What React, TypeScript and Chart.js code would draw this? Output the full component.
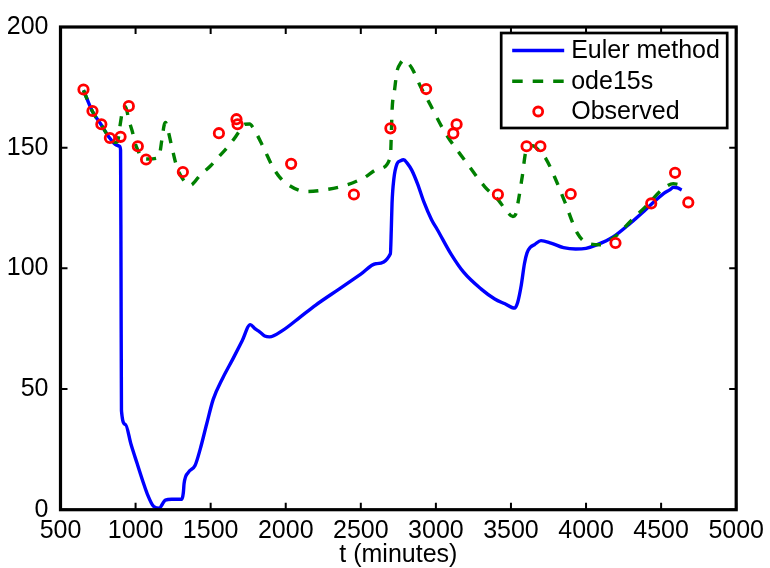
import React, { useEffect, useRef } from "react";
import { Chart, registerables } from "chart.js";

Chart.register(...registerables);

// ---- Data ----
const eulerT = [653, 713, 772, 829, 870, 894, 900, 903, 906, 932, 970, 1011, 1050, 1077, 1121, 1160, 1180, 1198, 1240, 1308, 1318, 1323, 1352, 1396, 1430, 1473, 1517, 1580, 1650, 1710, 1764, 1795, 1826, 1860, 1892, 1980, 2100, 2200, 2355, 2500, 2600, 2697, 2703, 2708, 2720, 2741, 2765, 2785, 2810, 2840, 2878, 2920, 2972, 3010, 3100, 3186, 3300, 3392, 3460, 3524, 3545, 3568, 3590, 3607, 3630, 3656, 3700, 3766, 3850, 3931, 4000, 4075, 4180, 4295, 4400, 4516, 4560, 4582, 4610, 4637];
const eulerV = [173.8, 165, 159.4, 153.9, 151.2, 150.6, 149, 100, 41, 35.3, 27, 19, 11.5, 6.7, 1.3, 0.6, 2.5, 4, 4.3, 4.3, 7, 10.8, 15.5, 18.3, 25, 35.4, 45.7, 54.5, 62.7, 70, 76.7, 75, 73.7, 72, 71.6, 74.3, 80, 84.8, 91.4, 97.6, 101.9, 106, 116, 127, 137, 143.3, 144.6, 145, 143.5, 140.6, 135, 127.5, 120, 116, 106, 98.3, 91.5, 87.3, 85.3, 83.5, 86, 92.8, 102, 106.4, 108.8, 109.8, 111.5, 110.5, 108.6, 108, 108.3, 109.8, 113, 118.7, 124.5, 131, 132.6, 133.6, 133.3, 132.5];

const odeT = [653, 713, 772, 829, 867, 880, 896, 915, 933, 955, 977, 1000, 1021, 1035, 1080, 1153, 1176, 1190, 1200, 1215, 1242, 1275, 1320, 1363, 1429, 1500, 1561, 1630, 1694, 1727, 1760, 1782, 1850, 1914, 1958, 2003, 2135, 2245, 2399, 2520, 2620, 2697, 2703, 2708, 2725, 2741, 2765, 2785, 2810, 2840, 2900, 2950, 3061, 3193, 3326, 3420, 3458, 3513, 3530, 3546, 3575, 3601, 3645, 3690, 3733, 3800, 3854, 3942, 4008, 4097, 4200, 4295, 4400, 4516, 4582, 4610, 4637];
const odeV = [173.8, 165, 159.4, 153.8, 152.2, 152.5, 159, 165.8, 167, 161.5, 157, 151.3, 148.1, 146, 145.3, 145.8, 153.6, 159.2, 160.4, 157.5, 150.2, 142, 136.5, 134.4, 138.5, 142.5, 146.7, 151.5, 157, 159.7, 159.8, 158.3, 150.3, 142, 137.9, 135.2, 131.8, 132.4, 134.4, 137.5, 141.3, 146.1, 155, 165.2, 174, 181.6, 185, 186.3, 185.3, 183, 175, 169.3, 156.3, 144.7, 133.8, 128, 124.8, 121.5, 122.2, 126.9, 138, 148.8, 150.8, 148.5, 145.4, 136.5, 128.3, 114.6, 110.5, 109.8, 113.5, 119.4, 125.8, 133.1, 135.1, 134.8, 134.4];

const obsT = [653, 713, 772, 829, 900, 955, 1015, 1070, 1315, 1555, 1672, 1679, 2036, 2454, 2697, 2935, 3116, 3138, 3413, 3604, 3696, 3898, 4196, 4434, 4593, 4681];
const obsV = [174.1, 165.2, 159.7, 154, 154.5, 167.2, 150.6, 145.1, 139.9, 156, 161.8, 159.7, 143.3, 130.6, 158, 174.3, 155.9, 159.7, 130.6, 150.6, 150.6, 130.8, 110.5, 126.9, 139.6, 127.3];

const xTicks = [500, 1000, 1500, 2000, 2500, 3000, 3500, 4000, 4500, 5000];
const yTicks = [0, 50, 100, 150, 200];
const seriesNames = ["Euler method", "ode15s", "Observed"];
const xTitle = "t (minutes)";

// ---- Style ----
const FONT = "'Liberation Sans', Arial, Helvetica, sans-serif";
const FS = 25;
const BLUE = "#0000ff";
const GREEN = "#008000";
const RED = "#ff0000";
const LW = 3.4;

const toPts = (t: number[], v: number[]) => t.map((x, i) => ({ x, y: v[i] }));

const boxPlugin = {
  id: "matlabBox",
  afterDraw(chart: any) {
    const { ctx, chartArea: a, scales } = chart;
    const xs = scales.x;
    const ys = scales.y;
    ctx.save();
    ctx.strokeStyle = "#000";
    ctx.lineWidth = 2;
    const tl = 7;
    ctx.beginPath();
    xTicks.forEach((t) => {
      const px = xs.getPixelForValue(t);
      ctx.moveTo(px, a.bottom);
      ctx.lineTo(px, a.bottom - tl);
      ctx.moveTo(px, a.top);
      ctx.lineTo(px, a.top + tl);
    });
    yTicks.forEach((v) => {
      const py = ys.getPixelForValue(v);
      ctx.moveTo(a.left, py);
      ctx.lineTo(a.left + tl, py);
      ctx.moveTo(a.right, py);
      ctx.lineTo(a.right - tl, py);
    });
    ctx.stroke();
    ctx.lineWidth = 3.2;
    ctx.strokeRect(a.left, a.top, a.right - a.left, a.bottom - a.top);

    // legend
    const lx = a.right - 9;
    const lw = 226;
    const lh = 95;
    const left = lx - lw;
    const top = a.top + 6;
    ctx.fillStyle = "#fff";
    ctx.fillRect(left, top, lw, lh);
    ctx.lineWidth = 2.7;
    ctx.strokeStyle = "#000";
    ctx.strokeRect(left, top, lw, lh);
    const rows = [top + 17.5, top + 48.3, top + 78.5];
    const x0 = left + 11;
    const x1 = left + 63;
    ctx.lineWidth = LW;
    ctx.strokeStyle = BLUE;
    ctx.beginPath();
    ctx.moveTo(x0, rows[0]);
    ctx.lineTo(x1, rows[0]);
    ctx.stroke();
    ctx.strokeStyle = GREEN;
    ctx.setLineDash([10.5, 10]);
    ctx.beginPath();
    ctx.moveTo(x0, rows[1]);
    ctx.lineTo(x1 + 1, rows[1]);
    ctx.stroke();
    ctx.setLineDash([]);
    ctx.strokeStyle = RED;
    ctx.lineWidth = 2.8;
    ctx.beginPath();
    ctx.arc((x0 + x1) / 2, rows[2], 4.5, 0, Math.PI * 2);
    ctx.stroke();
    ctx.fillStyle = "#000";
    ctx.font = `${FS}px ${FONT}`;
    ctx.textBaseline = "middle";
    ctx.textAlign = "left";
    seriesNames.forEach((n, i) => ctx.fillText(n, left + 70, rows[i] + 1));
    ctx.restore();
  },
};

export default function App() {
  const ref = useRef<HTMLCanvasElement | null>(null);
  useEffect(() => {
    document.body.style.margin = "0";
    if (!ref.current) return;
    const chart = new Chart(ref.current, {
      type: "line",
      data: {
        datasets: [
          {
            label: seriesNames[0],
            data: toPts(eulerT, eulerV),
            borderColor: BLUE,
            borderWidth: LW,
            pointRadius: 0,
            cubicInterpolationMode: "monotone",
            fill: false,
            order: 2,
          },
          {
            label: seriesNames[1],
            data: toPts(odeT, odeV),
            borderColor: GREEN,
            borderWidth: LW,
            borderDash: [10, 10],
            pointRadius: 0,
            cubicInterpolationMode: "monotone",
            fill: false,
            order: 1,
          },
          {
            label: seriesNames[2],
            data: toPts(obsT, obsV),
            showLine: false,
            borderColor: RED,
            backgroundColor: "rgba(0,0,0,0)",
            pointBorderColor: RED,
            pointBackgroundColor: "rgba(0,0,0,0)",
            pointRadius: 4.7,
            pointBorderWidth: 2.8,
            order: 0,
          },
        ],
      },
      options: {
        responsive: false,
        animation: false,
        events: [],
        layout: { padding: { left: 0, top: 21, right: 30.3, bottom: 0 } },
        plugins: { legend: { display: false }, tooltip: { enabled: false } },
        scales: {
          x: {
            type: "linear",
            min: 500,
            max: 5000,
            afterBuildTicks: (s: any) => {
              s.ticks = xTicks.map((v) => ({ value: v }));
            },
            afterFit: (s: any) => {
              s.height = 58.3;
            },
            grid: { display: false, drawTicks: false },
            border: { display: false },
            ticks: {
              color: "#000",
              font: { family: FONT, size: FS },
              padding: 6,
              maxRotation: 0,
              autoSkip: false,
              callback: (v: any) => String(v),
            },
            title: {
              display: true,
              text: xTitle,
              color: "#000",
              font: { family: FONT, size: FS, lineHeight: 1.05 },
              padding: { top: 0, bottom: 0 },
            },
          },
          y: {
            type: "linear",
            min: 0,
            max: 200,
            afterBuildTicks: (s: any) => {
              s.ticks = yTicks.map((v) => ({ value: v }));
            },
            afterFit: (s: any) => {
              s.width = 60.5;
            },
            grid: { display: false, drawTicks: false },
            border: { display: false },
            ticks: {
              color: "#000",
              font: { family: FONT, size: FS },
              padding: 12,
              callback: (v: any) => String(v),
            },
          },
        },
      },
      plugins: [boxPlugin],
    } as any);
    return () => chart.destroy();
  }, []);
  return (
    <div style={{ width: 770, height: 568 }}>
      <canvas ref={ref} width={770} height={568} />
    </div>
  );
}
